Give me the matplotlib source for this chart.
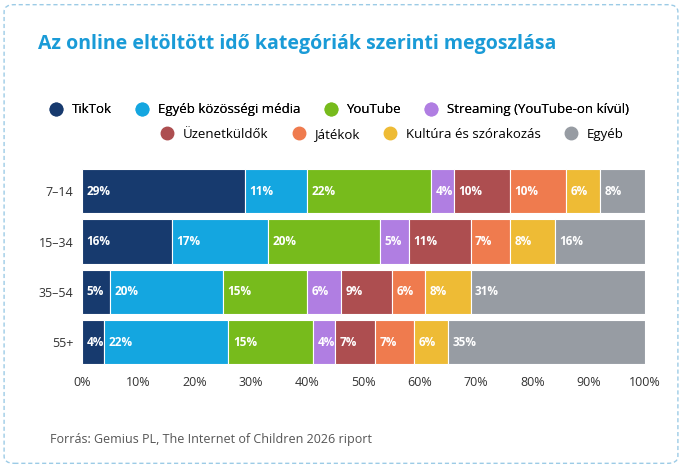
import matplotlib.pyplot as plt
import numpy as np
from matplotlib.lines import Line2D
from matplotlib.patches import FancyBboxPatch

plt.rcParams['font.family'] = ['Open Sans', 'DejaVu Sans']

groups = ["7–14", "15–34", "35–54", "55+"]
categories = ["TikTok", "Egyéb közösségi média", "YouTube", "Streaming (YouTube-on kívül)",
              "Üzenetküldők", "Játékok", "Kultúra és szórakozás", "Egyéb"]
values = [
    [29, 11, 22, 4, 10, 10, 6, 8],
    [16, 17, 20, 5, 11, 7, 8, 16],
    [5, 20, 15, 6, 9, 6, 8, 31],
    [4, 22, 15, 4, 7, 7, 6, 35],
]
colors = ["#173a6e", "#14a6e0", "#77bb1c", "#b07ee2", "#ad4e50", "#ef7b4e", "#eebb35", "#979ca3"]

fig = plt.figure(figsize=(6.82, 4.68), dpi=100)
fig.patches.append(FancyBboxPatch((0.006, 0.01), 0.988, 0.98, boxstyle="round,pad=0,rounding_size=0.015",
                                  transform=fig.transFigure, fill=False, ec="#9ccbe6", ls=(0, (3, 2)), lw=1))
ax = fig.add_axes([0.12, 0.215, 0.826, 0.43])

vals = np.array(values)
y = np.arange(len(groups))
left = np.zeros(len(groups))
for j, cat in enumerate(categories):
    ax.barh(y, vals[:, j], left=left, height=0.88, color=colors[j], edgecolor="white", linewidth=0.8)
    for i in range(len(groups)):
        ax.text(left[i] + 0.8, y[i], f"{vals[i, j]}%", color="white", fontsize=8.5,
                fontweight="bold", va="center", ha="left")
    left += vals[:, j]

ax.set_xlim(0, 100)
ax.set_ylim(len(groups) - 0.5, -0.5)
ax.set_yticks(y)
ax.set_yticklabels(groups, fontsize=9, color="#333333")
ax.set_xticks(range(0, 101, 10))
ax.set_xticklabels([f"{t}%" for t in range(0, 101, 10)], fontsize=9, color="#333333")
ax.tick_params(length=0, pad=6)
for s in ax.spines.values():
    s.set_visible(False)

fig.text(0.056, 0.905, "Az online eltöltött idő kategóriák szerinti megoszlása", fontsize=14,
         fontweight="bold", color="#1a9bd7", va="center")
fig.text(0.073, 0.06, "Forrás: Gemius PL, The Internet of Children 2026 riport", fontsize=9,
         color="#555555", va="center")

def handles(idx):
    return [Line2D([], [], marker="o", ls="", color=colors[k], markersize=9) for k in idx]

leg1 = fig.legend(handles(range(4)), categories[:4], loc="center left", bbox_to_anchor=(0.045, 0.765),
                  ncol=4, frameon=False, fontsize=9.5, handletextpad=0.2, columnspacing=1.3)
fig.legend(handles(range(4, 8)), categories[4:], loc="center left", bbox_to_anchor=(0.208, 0.713),
           ncol=4, frameon=False, fontsize=9.5, handletextpad=0.2, columnspacing=1.3)
fig.add_artist(leg1)

fig.savefig("out.png", dpi=100)
